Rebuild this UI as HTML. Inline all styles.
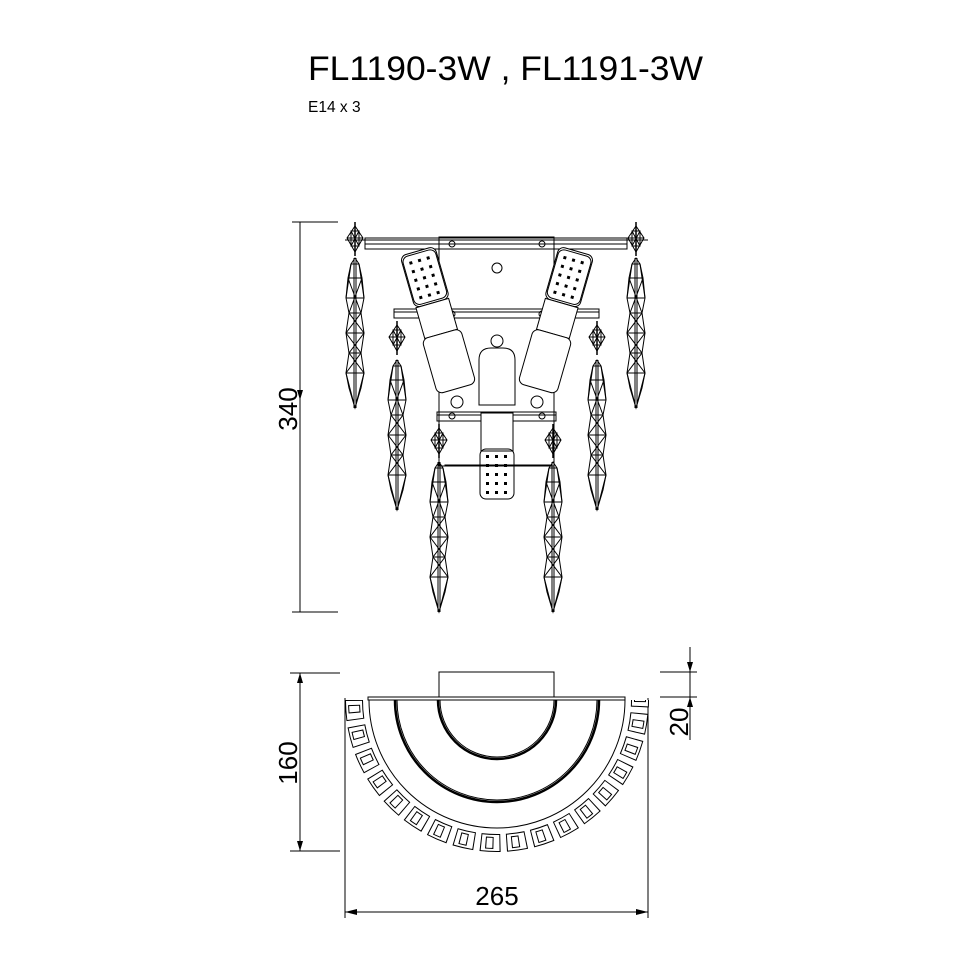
<!DOCTYPE html>
<html><head><meta charset="utf-8"><style>
html,body{margin:0;padding:0;background:#fff;}
svg{display:block;}
text{font-family:"Liberation Sans",sans-serif;fill:#000;}
</style></head><body>
<svg width="970" height="970" viewBox="0 0 970 970" xmlns="http://www.w3.org/2000/svg">
<defs>
<g id="longc" fill="none" stroke="#000" stroke-width="1">
  <path d="M0,0 L-4,6 L-7,20 L-9,40 L-6,55 L-9,75 L-6,95 L-9,115 L-6,130 L0,150 L6,130 L9,115 L6,95 L9,75 L6,55 L9,40 L7,20 L4,6 Z"/>
  <path d="M-4,6 L4,6 M-7,20 L7,20 M-9,40 L9,40 M-6,55 L6,55 M-9,75 L9,75 M-6,95 L6,95 M-9,115 L9,115"/>
  <path d="M-7,20 L6,55 L-9,75 L6,95 L-9,115 L0,150 M7,20 L-6,55 L9,75 L-6,95 L9,115 L0,150 M-4,6 L-9,40 M4,6 L9,40"/>
  <path d="M-1,0 L-1,150 M1,0 L1,150"/>
</g>
<g id="smallc" fill="none" stroke="#000" stroke-width="1">
  <path d="M0,0 L-8,12 L0,26 L8,12 Z M-8,12 L8,12 M-4,5 L4,5 L4,20 L-4,20 Z M-4,5 L4,20 M4,5 L-4,20"/>
  <path d="M0,-4 L0,30" stroke-width="1.5"/>
</g>
<g id="bulb" fill="none" stroke="#000" stroke-width="1">
  <rect x="-17" y="0" width="34" height="50" rx="6"/>
  <g fill="#000" stroke="none">
    <rect x="-11" y="6" width="3" height="3"/><rect x="-2" y="6" width="3" height="3"/><rect x="7" y="6" width="3" height="3"/>
    <rect x="-11" y="15" width="3" height="3"/><rect x="-2" y="15" width="3" height="3"/><rect x="7" y="15" width="3" height="3"/>
    <rect x="-11" y="24" width="3" height="3"/><rect x="-2" y="24" width="3" height="3"/><rect x="7" y="24" width="3" height="3"/>
    <rect x="-11" y="33" width="3" height="3"/><rect x="-2" y="33" width="3" height="3"/><rect x="7" y="33" width="3" height="3"/>
    <rect x="-11" y="42" width="3" height="3"/><rect x="-2" y="42" width="3" height="3"/><rect x="7" y="42" width="3" height="3"/>
  </g>
</g>
</defs>

<text x="308" y="80" font-size="34" textLength="395" lengthAdjust="spacingAndGlyphs">FL1190-3W , FL1191-3W</text>
<text x="308" y="112" font-size="15.5">E14 x 3</text>

<!-- 340 dimension -->
<g stroke="#000" stroke-width="1" fill="none">
  <line x1="300" y1="222" x2="300" y2="612"/>
  <line x1="292" y1="222" x2="338" y2="222"/>
  <line x1="292" y1="612" x2="338" y2="612"/>
</g>
<path d="M297,390 L303,390 L300,400 Z" fill="#000"/>
<text transform="translate(297,409) rotate(-90)" font-size="26" text-anchor="middle">340</text>

<!-- top view -->
<g stroke="#000" stroke-width="1" fill="none">
  <rect x="439" y="237" width="115" height="229" fill="#fff"/>
  <line x1="345" y1="240" x2="648" y2="240"/>
  <rect x="365" y="238" width="262" height="11"/>
  <line x1="365" y1="244" x2="627" y2="244"/>
  <rect x="394" y="309" width="205" height="9"/>
  <line x1="394" y1="312" x2="599" y2="312"/>
  <rect x="437" y="412" width="119" height="9"/>
  <line x1="437" y1="415" x2="556" y2="415"/>
  <circle cx="452" cy="244" r="3"/><circle cx="542" cy="244" r="3"/>
  <circle cx="497" cy="268" r="5"/>
  <circle cx="452" cy="314" r="3"/><circle cx="542" cy="314" r="3"/>
  <circle cx="457" cy="402" r="6"/><circle cx="537" cy="402" r="6"/>
  <circle cx="452" cy="416" r="3"/><circle cx="542" cy="416" r="3"/>
  <circle cx="497" cy="341" r="6" fill="#fff"/>
  <path d="M479,405 L479,360 Q479,348 491,348 L503,348 Q515,348 515,360 L515,405 Z" fill="#fff"/>
  <rect x="481" y="413" width="32" height="38" fill="#fff"/>
  <rect x="445" y="465" width="105" height="1"/>
</g>
<use href="#bulb" transform="translate(497,449)"/>
<g transform="rotate(-16 440 330)" stroke="#000" stroke-width="1" fill="#fff">
  <rect x="422" y="248" width="36" height="54" rx="6"/>
  <rect x="423" y="302" width="34" height="32"/>
  <rect x="420" y="334" width="40" height="57" rx="6"/>
</g>
<g transform="rotate(-16 440 330)"><use href="#bulb" transform="translate(440,250)"/></g>
<g transform="rotate(16 554 330)" stroke="#000" stroke-width="1" fill="#fff">
  <rect x="536" y="248" width="36" height="54" rx="6"/>
  <rect x="537" y="302" width="34" height="32"/>
  <rect x="534" y="334" width="40" height="57" rx="6"/>
</g>
<g transform="rotate(16 554 330)"><use href="#bulb" transform="translate(554,250)"/></g>

<use href="#smallc" transform="translate(355,226)"/>
<use href="#smallc" transform="translate(636,226)"/>
<use href="#longc" transform="translate(355,258)"/>
<use href="#longc" transform="translate(636,258)"/>
<use href="#smallc" transform="translate(397,325)"/>
<use href="#smallc" transform="translate(597,325)"/>
<use href="#longc" transform="translate(397,360)"/>
<use href="#longc" transform="translate(597,360)"/>
<use href="#smallc" transform="translate(439,428)"/>
<use href="#smallc" transform="translate(553,428)"/>
<use href="#longc" transform="translate(439,462)"/>
<use href="#longc" transform="translate(553,462)"/>

<!-- bottom view -->
<g stroke="#000" stroke-width="1" fill="none">
  <rect x="439" y="672" width="115" height="25"/>
  <rect x="368" y="697" width="257" height="3"/>
  <line x1="345" y1="698" x2="345" y2="918"/>
  <line x1="648" y1="698" x2="648" y2="918"/>
  <path d="M369,700 A128,128 0 0 0 625,700"/>
  <path d="M395,700 A102,102 0 0 0 599,700" stroke-width="2.5"/>
  <path d="M397,700 A100,100 0 0 0 597,700"/>
  <path d="M438,700 A59,59 0 0 0 556,700" stroke-width="2.5"/>
  <path d="M440,700 A57,57 0 0 0 554,700"/>
  <path d="M354,700 A143,143 0 0 0 640,700" stroke-width="18" stroke-dasharray="20 6"/>
  <path d="M354,700 A143,143 0 0 0 640,700" stroke="#fff" stroke-width="16" stroke-dasharray="18 8" stroke-dashoffset="-1"/>
  <path d="M354,700 A143,143 0 0 0 640,700" stroke-width="12" stroke-dasharray="8 18" stroke-dashoffset="-5"/>
  <path d="M354,700 A143,143 0 0 0 640,700" stroke="#fff" stroke-width="10" stroke-dasharray="6 20" stroke-dashoffset="-6"/>
  <line x1="300" y1="673" x2="300" y2="851"/>
  <line x1="290" y1="673" x2="340" y2="673"/>
  <line x1="290" y1="851" x2="340" y2="851"/>
  <line x1="345" y1="912" x2="648" y2="912"/>
  <line x1="690" y1="647" x2="690" y2="740"/>
  <line x1="660" y1="672" x2="697" y2="672"/>
  <line x1="660" y1="697" x2="697" y2="697"/>
</g>
<path d="M300,673 L297,683 L303,683 Z M300,851 L297,841 L303,841 Z M345,912 L357,909 L357,915 Z M648,912 L636,909 L636,915 Z M690,672 L687,662 L693,662 Z M690,697 L687,707 L693,707 Z" fill="#000"/>
<text transform="translate(297,763) rotate(-90)" font-size="26" text-anchor="middle">160</text>
<text x="497" y="905" font-size="26" text-anchor="middle">265</text>
<text transform="translate(688,722) rotate(-90)" font-size="26" text-anchor="middle">20</text>
</svg>
</body></html>
